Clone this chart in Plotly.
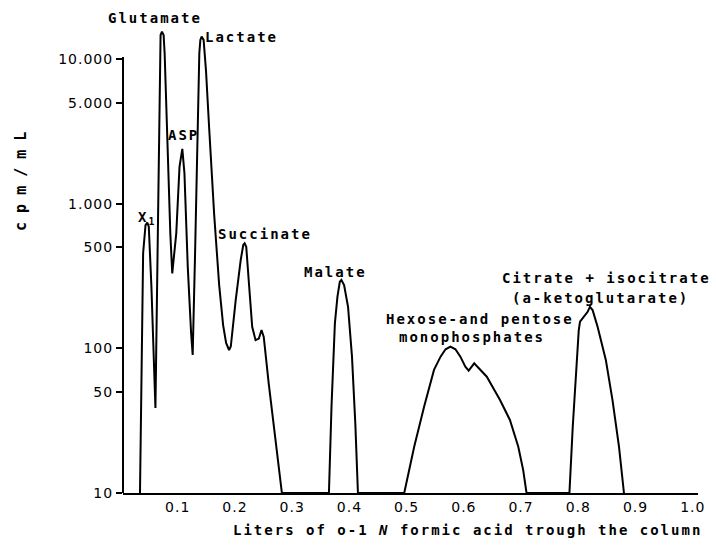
import plotly.graph_objects as go

# Elution volume (litres of 0-1 N formic acid) and activity (cpm/mL)
liters = [
    0.034, 0.0395, 0.0437, 0.0468, 0.0494, 0.054, 0.061,
    0.0684, 0.070, 0.0724, 0.0753, 0.0771,
    0.0828, 0.0870, 0.0904, 0.0974, 0.1031, 0.1080,
    0.1117, 0.1175, 0.1234, 0.1261,
    0.1303, 0.1348, 0.1377, 0.1395, 0.1417, 0.1452, 0.1493, 0.1551, 0.1637, 0.1724, 0.1793, 0.1845, 0.1897,
    0.1927, 0.2013, 0.2100, 0.2145, 0.2169, 0.2197, 0.2244, 0.2301, 0.2360, 0.2417, 0.2464, 0.2503, 0.2590, 0.2706, 0.2820,
    0.3642, 0.3687, 0.3746, 0.3791, 0.3832, 0.3860, 0.3907, 0.3976, 0.4045, 0.4103, 0.4149,
    0.4958, 0.5132, 0.5305, 0.5478, 0.5593, 0.5680, 0.5766, 0.5853, 0.5939, 0.6026, 0.6084, 0.6181, 0.6286, 0.6401, 0.6632, 0.6805, 0.6951, 0.7037, 0.7095,
    0.7845, 0.7903, 0.7961, 0.8008, 0.8030, 0.8105, 0.8163, 0.8203, 0.8250, 0.8337, 0.8481, 0.8597, 0.8711, 0.8798,
]
cpm = [
    10, 455, 713, 740, 695, 267, 38.7,
    10990, 14690, 15490, 14690, 10990,
    1807, 625, 330, 625, 1807, 2400,
    1626, 367, 127, 90,
    455, 3800, 10990, 13590, 14320, 13590, 8410, 3236, 837, 274, 145, 109, 97.5,
    103, 216, 408, 519, 533, 505, 282, 141, 114, 117, 134, 120, 57, 23.3, 10,
    10, 39.5, 149, 228, 289, 297, 274, 194, 87.7, 30.3, 10,
    10, 20.9, 39.5, 71, 87.7, 98.6, 103, 98.6, 87.7, 74.7, 70.2, 78.9, 71, 63.7, 44, 32, 20.9, 14.4, 10,
    10, 28.7, 71, 134, 153, 166, 179, 194, 184, 141, 83.2, 44, 20.9, 10,
]

y_tick_values = [10, 50, 100, 500, 1000, 5000, 10000]
y_tick_labels = ["10", "50", "100", "500", "1.000", "5.000", "10.000"]
x_tick_values = [0.1, 0.2, 0.3, 0.4, 0.5, 0.6, 0.7, 0.8, 0.9, 1.0]
x_tick_labels = ["0.1", "0.2", "0.3", "0.4", "0.5", "0.6", "0.7", "0.8", "0.9", "1.0"]

peak_labels = ["Glutamate", "Lactate", "ASP", "X<sub>1</sub>", "Succinate", "Malate",
               "Citrate + isocitrate", "(a-ketoglutarate)", "Hexose-and pentose", "monophosphates"]
# label centre positions (x in litres, y in log10 cpm/mL)
label_pos = [(0.0598, 4.285), (0.2114, 4.154), (0.110, 3.476), (0.0459, 2.902), (0.2521, 2.791),
             (0.376, 2.528), (0.8498, 2.487), (0.8385, 2.349), (0.6289, 2.200), (0.6142, 2.080)]

x_title = "Liters of o-1 <i>N</i> formic acid trough the column"
y_title = "cpm/mL"

X_RANGE = [0.00433, 1.00918]
Y_RANGE = [1, 4.271]

MONO = "DejaVu Sans Mono"
SANS = "DejaVu Sans"

fig = go.Figure(go.Scatter(
    x=liters, y=cpm, mode="lines",
    line=dict(color="black", width=2),
    cliponaxis=False, hoverinfo="skip", showlegend=False,
))


def to_paper(xv, ylog):
    return ((xv - X_RANGE[0]) / (X_RANGE[1] - X_RANGE[0]),
            (ylog - Y_RANGE[0]) / (Y_RANGE[1] - Y_RANGE[0]))


annotations = []
for txt, (ax, ay) in zip(peak_labels, label_pos):
    px, py = to_paper(ax, ay)
    annotations.append(dict(
        text=txt, x=px, y=py, xref="paper", yref="paper", showarrow=False,
        xanchor="center", yanchor="middle", borderpad=0,
        font=dict(family=MONO, size=14, color="black", weight="bold"),
    ))
annotations.append(dict(
    text=x_title, x=0.599, y=-0.078, xref="paper", yref="paper", showarrow=False,
    xanchor="center", yanchor="middle",
    font=dict(family=MONO, size=14, color="black", weight="bold"),
))
annotations.append(dict(
    text=y_title, x=-0.1776, y=0.668, xref="paper", yref="paper", showarrow=False,
    xanchor="center", yanchor="middle", textangle=-90,
    font=dict(family=MONO, size=15, color="black", weight="bold"),
))

fig.update_layout(
    width=716, height=546,
    margin=dict(l=123, r=13, t=20, b=53),
    paper_bgcolor="white", plot_bgcolor="white",
    showlegend=False,
    annotations=annotations,
    shapes=[dict(type="line", xref="paper", yref="paper", x0=0, x1=0, y0=0, y1=0.922,
                 line=dict(color="black", width=2))],
    xaxis=dict(
        range=X_RANGE, showgrid=False, zeroline=False,
        showline=True, linecolor="black", linewidth=2,
        tickmode="array", tickvals=x_tick_values, ticktext=x_tick_labels,
        ticks="", tickfont=dict(family=SANS, size=14, color="black"),
    ),
    yaxis=dict(
        type="log", range=Y_RANGE, showgrid=False, zeroline=False,
        showline=False,
        tickmode="array", tickvals=y_tick_values, ticktext=y_tick_labels,
        ticks="outside", ticklen=6, tickwidth=2, tickcolor="black",
        tickfont=dict(family=SANS, size=14, color="black"),
    ),
)

js = """
document.querySelectorAll('.annotation-text').forEach(function(t){
  t.style.letterSpacing = (t.textContent === 'cpm/mL') ? '9px' : '2px';
});
document.querySelectorAll('.xtick text, .ytick text').forEach(function(t){
  t.style.letterSpacing = '1px';
});
"""

fig.write_html("out.html", post_script=js, config={"displayModeBar": False})
